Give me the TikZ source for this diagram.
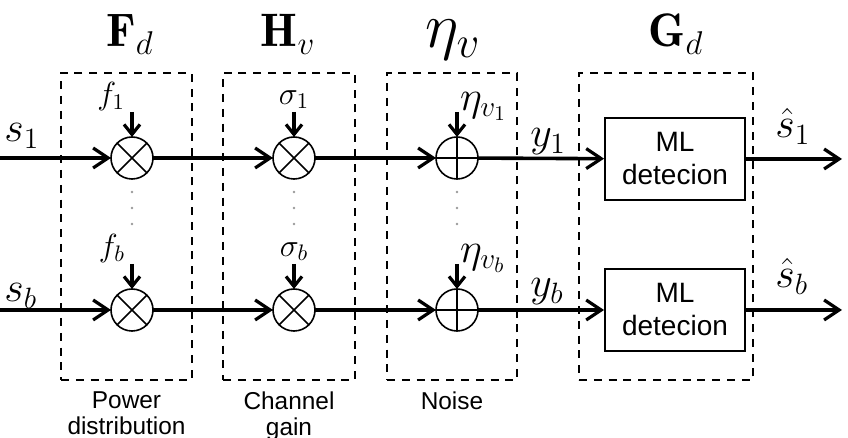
\RequirePackage{fix-cm}
\documentclass[tikz,border=0pt]{standalone}
\usepackage{fontspec}
\newfontfamily\helv{Liberation Sans}
\usetikzlibrary{arrows.meta,positioning}

\tikzset{
  flow/.style={line width=1.8pt, -{Straight Barb[length=7.5pt,width=10pt,line width=1.6pt]}},
  feed/.style={line width=1.8pt, -{Straight Barb[length=5pt,width=8pt,line width=1.6pt]}},
  group/.style={draw, line width=0.9pt, dash pattern=on 4pt off 3.4pt, minimum height=153.5pt, inner sep=0pt},
  title/.style={font=\fontsize{23.5}{26}\selectfont, anchor=base, inner sep=2pt},
  signal/.style={font=\fontsize{21}{24}\selectfont, anchor=base west, inner sep=0pt},
  coef/.style={font=\fontsize{16}{18}\selectfont},
  mult/.style={circle, draw, line width=0.8pt, minimum size=21pt, inner sep=0pt, outer sep=0pt},
  detector/.style={draw, line width=0.9pt, minimum width=70pt, minimum height=41pt, align=center,
    font=\helv\fontsize{14}{16.5}\selectfont},
  caption/.style={align=center, font=\helv\fontsize{12.2}{13}\selectfont},
  dot/.style={fill=black!40, circle, inner sep=0pt, minimum size=1.3pt}
}

\begin{document}
\begin{tikzpicture}[x=0.5pt, y=-0.5pt]
\useasboundingbox (0,0) rectangle (848,438);

% dashed groups and their titles
\node[group, minimum width=65.5pt] (Fd box) at (126.5,226.5) {};
\node[group, minimum width=66pt] (Hv box) at (289,226.5) {};
\node[group, minimum width=65pt] (eta box) at (452,226.5) {};
\node[group, minimum width=87pt] (Gd box) at (666,226.5) {};

\node[title] (Fd) at (130,47) {$\mathbf{F}_d$};
\node[title] (Hv) at (288,47) {$\mathbf{H}_v$};
\node[title, font=\fontsize{32}{36}\selectfont] (eta) at (453,48) {$\eta_v$};
\node[title] (Gd) at (676,47) {$\mathbf{G}_d$};

\node[caption, below=2pt of Fd box] {Power\\distribution};
\node[caption, below=2pt of Hv box] {Channel\\gain};
\node[caption, below=2pt of eta box, anchor=north] {Noise\\\strut};

% first branch
\coordinate (in 1) at (0,158);
\node[mult] (power 1) at (132,158) {};
\node[mult] (gain 1) at (294,158) {};
\node[mult] (noise 1) at (457,158) {};
\node[detector] (detect 1) at (675,159) {ML\\detecion};
\coordinate (out 1) at (842,159);

% last branch
\coordinate (in b) at (0,310);
\node[mult] (power b) at (132,310) {};
\node[mult] (gain b) at (294,310) {};
\node[mult] (noise b) at (457,310) {};
\node[detector] (detect b) at (675,310) {ML\\detecion};
\coordinate (out b) at (842,310);

\foreach \m in {power 1,gain 1,power b,gain b}
  \draw[line width=0.8pt] (\m.north west) -- (\m.south east) (\m.north east) -- (\m.south west);
\foreach \m in {noise 1,noise b}
  \draw[line width=0.8pt] (\m.north) -- (\m.south) (\m.west) -- (\m.east);

\foreach \r in {1,b} {
  \draw[flow] (in \r) -- (power \r);
  \draw[flow] (power \r) -- (gain \r);
  \draw[flow] (gain \r) -- (noise \r);
  \draw[flow] (noise \r) -- (detect \r);
  \draw[flow] (detect \r) -- (out \r);
  \foreach \c in {power,gain,noise} {
    \coordinate[above=12.5pt of \c\space\r] (\c\space\r\space top);
    \draw[feed] (\c\space\r\space top) -- (\c\space\r);
  }
}

% vertical dots between the branches
\foreach \x in {132,294,457}
  \foreach \y in {192,208,224}
    \node[dot] at (\x,\y) {};

% coefficients
\node[coef, above left=-3pt and 0pt of power 1 top] {$f_1$};
\node[coef, above=-2pt of gain 1 top] {$\sigma_1$};
\node[coef, font=\fontsize{21}{24}\selectfont, above right=-8pt and -2pt of noise 1 top] {$\eta_{v_1}$};
\node[coef, above left=-3pt and 0pt of power b top] {$f_b$};
\node[coef, above=-2pt of gain b top] {$\sigma_b$};
\node[coef, font=\fontsize{21}{24}\selectfont, above right=-8pt and -2pt of noise b top] {$\eta_{v_b}$};

% signals
\node[signal] (s1) at (4,142) {$s_1$};
\node[signal] (sb) at (4,302) {$s_b$};
\node[signal] (y1) at (530,147) {$y_1$};
\node[signal] (yb) at (530,297) {$y_b$};
\node[signal] (sh1) at (775,138) {$\hat{s}_1$};
\node[signal] (shb) at (775,288) {$\hat{s}_b$};
\end{tikzpicture}
\end{document}
